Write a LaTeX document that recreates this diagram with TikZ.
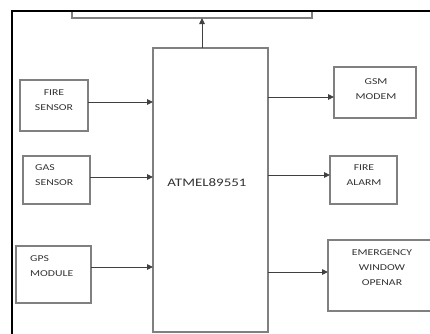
\documentclass[tikz,border=0pt]{standalone}
\usepackage{fontspec}
\setmainfont{Carlito}[FakeStretch=1.3]
\usetikzlibrary{arrows.meta}
\tikzset{
  blk/.style={draw=black!50, line width=1.2pt, inner sep=0pt, outer sep=0pt, fill=white},
  lbl/.style={inner sep=0pt, text=black!80, font=\fontsize{9}{15}\selectfont},
  arr/.style={draw=black!75, line width=0.9pt, -{Triangle[length=6pt,width=5.5pt]}},
}
\begin{document}
\begin{tikzpicture}[x=1pt,y=-1pt]
\useasboundingbox (0,0) rectangle (430,333);
\clip (0,0) rectangle (430,333);
\fill[white] (0,0) rectangle (430,333);
% boxes
\node[blk, minimum width=240pt, minimum height=7pt] (top) at (192,14.5) {};
\node[blk, minimum width=115pt, minimum height=284pt] (main) at (210.5,190) {};
\node[blk, minimum width=68pt, minimum height=51pt] (fs) at (54,105.5) {};
\node[blk, minimum width=67pt, minimum height=48pt] (gs) at (56.5,180) {};
\node[blk, minimum width=75pt, minimum height=57pt] (gps) at (53.5,274.5) {};
\node[blk, minimum width=82pt, minimum height=51pt] (gsm) at (375,92.5) {};
\node[blk, minimum width=67pt, minimum height=48pt] (fa) at (363.5,180) {};
\node[blk, minimum width=104pt, minimum height=71pt] (ew) at (380,275.5) {};
% labels
\node[lbl, font=\fontsize{11.5}{14}\selectfont] (tmain) at (207,183) {ATMEL89551};
\node[lbl, align=center] (tfs) at (54,100.5) {FIRE\\SENSOR};
\node[lbl, align=left, anchor=west] (tgs) at (35,175.5) {GAS\\SENSOR};
\node[lbl, align=left, anchor=west] (tgps) at (30,266) {GPS\\MODULE};
\node[lbl, align=center] (tgsm) at (376,89.5) {GSM\\MODEM};
\node[lbl, align=center] (tfa) at (364,175.5) {FIRE\\ALARM};
\node[lbl, align=center] (tew) at (382,268) {EMERGENCY\\WINDOW\\OPENAR};
% arrows
\draw[arr] (fs.east |- 0,102) -- (main.west |- 0,102);
\draw[arr] (gs.east |- 0,177) -- (main.west |- 0,177);
\draw[arr] (gps.east |- 0,267) -- (main.west |- 0,267);
\draw[arr] (main.east |- 0,97) -- (gsm.west |- 0,97);
\draw[arr] (main.east |- 0,175) -- (fa.west |- 0,175);
\draw[arr] (main.east |- 0,272) -- (ew.west |- 0,272);
\draw[arr] (main.north -| 202,0) -- (top.south -| 202,0);
% outer frame
\draw[black, line width=2.2pt] (432,11) -- (12,11) -- (12,335);
\end{tikzpicture}
\end{document}
